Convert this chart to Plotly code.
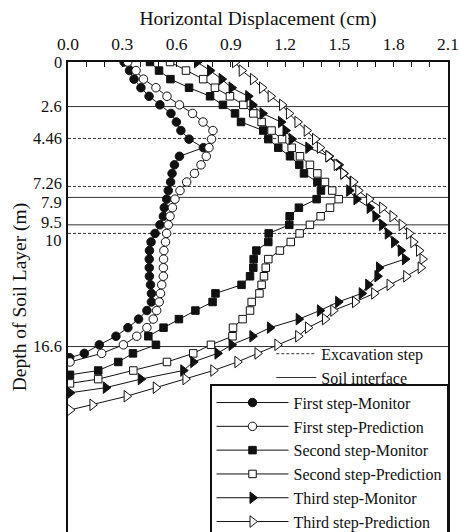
import plotly.graph_objects as go

# Depth (m) and horizontal displacement (cm) of the retaining wall after each excavation step
fm_depth = [0, 0.5, 1.0, 1.5, 2.0, 2.5, 3.0, 3.5, 4.0, 4.5, 5.0, 5.5, 6.0, 6.5, 7.0, 7.5, 8.0, 8.5,
            9.0, 9.5, 10.0, 10.5, 11.0, 11.5, 12.0, 12.5, 13.0, 13.5, 14.0, 14.5, 15.0, 15.5, 16.0,
            16.5, 17.0, 17.25]
fm_disp = [0.31, 0.340, 0.365, 0.403, 0.448, 0.508, 0.569, 0.599, 0.624, 0.669, 0.748, 0.616, 0.588,
           0.575, 0.567, 0.554, 0.545, 0.532, 0.527, 0.508, 0.481, 0.459, 0.450, 0.449, 0.449, 0.450,
           0.456, 0.461, 0.461, 0.436, 0.390, 0.331, 0.265, 0.173, 0.090, 0.009]

fp_depth = [0, 0.5, 1.0, 1.5, 2.0, 2.5, 3.0, 3.5, 4.0, 4.5, 5.0, 5.5, 6.0, 6.5, 7.0, 7.5, 8.0, 8.5,
            9.0, 9.5, 10.0, 10.5, 11.0, 11.5, 12.0, 12.5, 13.0, 13.5, 14.0, 14.5, 15.0, 15.5, 16.0,
            16.5, 17.0, 17.5]
fp_disp = [0.33, 0.376, 0.417, 0.486, 0.547, 0.616, 0.688, 0.746, 0.801, 0.793, 0.779, 0.764, 0.735,
           0.699, 0.656, 0.619, 0.591, 0.577, 0.564, 0.554, 0.545, 0.539, 0.530, 0.528, 0.527, 0.527,
           0.518, 0.511, 0.504, 0.490, 0.471, 0.436, 0.380, 0.306, 0.186, 0.011]

sm_depth = [0, 0.5, 1.0, 1.5, 2.0, 2.5, 3.0, 3.5, 4.0, 4.5, 5.0, 5.5, 6.0, 6.5, 7.0, 7.5, 8.0, 8.5,
            9.0, 9.5, 10.0, 10.5, 11.0, 11.5, 12.0, 12.5, 13.0, 13.5, 14.0, 14.5, 15.0, 15.5, 16.0,
            16.5, 17.0, 17.5, 18.0, 18.25]
sm_disp = [0.453, 0.503, 0.566, 0.669, 0.785, 0.856, 0.923, 0.956, 1.079, 1.107, 1.162, 1.227, 1.278,
           1.304, 1.378, 1.398, 1.374, 1.276, 1.225, 1.223, 1.109, 1.107, 1.041, 1.026, 1.024, 1.006,
           0.959, 0.815, 0.799, 0.704, 0.613, 0.528, 0.444, 0.486, 0.359, 0.278, 0.167, 0.011]

sp_depth = [0, 0.5, 1.0, 1.5, 2.0, 2.5, 3.0, 3.5, 4.0, 4.5, 5.0, 5.5, 6.0, 6.5, 7.0, 7.5, 8.0, 8.5,
            9.0, 9.5, 10.0, 10.5, 11.0, 11.5, 12.0, 12.5, 13.0, 13.5, 14.0, 14.5, 15.0, 15.5, 16.0,
            16.5, 17.0, 17.5, 18.0, 18.5, 18.75]
sp_disp = [0.564, 0.652, 0.747, 0.812, 0.895, 0.969, 1.024, 1.070, 1.125, 1.183, 1.236, 1.282, 1.337,
           1.378, 1.420, 1.460, 1.496, 1.448, 1.396, 1.337, 1.280, 1.231, 1.171, 1.107, 1.093, 1.083,
           1.070, 1.058, 1.015, 1.006, 0.965, 0.912, 0.909, 0.790, 0.692, 0.547, 0.361, 0.167, 0.011]

tm_depth = [0, 0.5, 1.0, 1.5, 2.0, 2.5, 3.0, 3.5, 4.0, 4.5, 5.0, 5.5, 6.0, 6.5, 7.0, 7.5, 8.0, 8.5,
            9.0, 9.5, 10.0, 10.5, 11.0, 11.5, 12.0, 12.5, 13.0, 13.5, 14.0, 14.5, 15.0, 15.5, 16.0,
            16.5, 17.0, 17.5, 18.0, 18.5, 19.0, 19.3]
tm_disp = [0.713, 0.785, 0.849, 0.904, 0.996, 1.019, 1.075, 1.177, 1.202, 1.236, 1.328, 1.442, 1.496,
           1.523, 1.572, 1.554, 1.594, 1.667, 1.699, 1.736, 1.767, 1.802, 1.839, 1.862, 1.719, 1.710,
           1.659, 1.623, 1.493, 1.392, 1.275, 1.116, 1.019, 0.904, 0.826, 0.692, 0.637, 0.402, 0.209,
           0.011]

tp_depth = [0, 0.5, 1.0, 1.5, 2.0, 2.5, 3.0, 3.5, 4.0, 4.5, 5.0, 5.5, 6.0, 6.5, 7.0, 7.5, 8.0, 8.5,
            9.0, 9.5, 10.0, 10.5, 11.0, 11.5, 12.0, 12.5, 13.0, 13.5, 14.0, 14.5, 15.0, 15.5, 16.0,
            16.5, 17.0, 17.5, 18.0, 18.5, 19.0, 19.5, 20.0, 20.3]
tp_disp = [0.923, 0.960, 1.022, 1.072, 1.120, 1.183, 1.221, 1.268, 1.319, 1.365, 1.392, 1.438, 1.485,
           1.521, 1.576, 1.604, 1.664, 1.736, 1.793, 1.844, 1.885, 1.908, 1.940, 1.959, 1.949, 1.869,
           1.777, 1.692, 1.586, 1.466, 1.420, 1.326, 1.272, 1.157, 1.047, 0.936, 0.803, 0.649, 0.485,
           0.324, 0.135, 0.011]

# Reference depths
excavation_depths = [4.46, 7.26, 10]
interface_depths = [2.6, 7.9, 9.5, 16.6]
depth_ticks = [0, 2.6, 4.46, 7.26, 7.9, 9.5, 10, 16.6]
depth_tick_text = ["0", "2.6", "4.46", "7.26", "7.9", "9.5", "10", "16.6"]
# vertical nudges (px) so that crowded depth labels stay readable
depth_label_nudge = [0, 0, 0, 3, -5, 2, -7, 0]

X_MAX = 2.1
Y_MAX = 27.42
FONT = "Liberation Serif"
INK = "#111111"


def level_lines(depths):
    xs, ys = [], []
    for d in depths:
        xs += [0, X_MAX, None]
        ys += [d, d, None]
    return xs, ys


fig = go.Figure()

ex_x, ex_y = level_lines(excavation_depths)
fig.add_trace(go.Scatter(x=ex_x, y=ex_y, mode="lines", name="Excavation step",
                         line=dict(color="#333333", width=1, dash="3px,2px"),
                         legend="legend2", hoverinfo="skip"))
si_x, si_y = level_lines(interface_depths)
fig.add_trace(go.Scatter(x=si_x, y=si_y, mode="lines", name="Soil interface",
                         line=dict(color="#333333", width=1),
                         legend="legend2", hoverinfo="skip"))

series = [
    ("First step-Monitor", fm_disp, fm_depth, "circle", INK, 8.5),
    ("First step-Prediction", fp_disp, fp_depth, "circle", "white", 8.5),
    ("Second step-Monitor", sm_disp, sm_depth, "square", INK, 7.5),
    ("Second step-Prediction", sp_disp, sp_depth, "square", "white", 7.5),
    ("Third step-Monitor", tm_disp, tm_depth, "triangle-right", INK, 10),
    ("Third step-Prediction", tp_disp, tp_depth, "triangle-right", "white", 10),
]
for name, xs, ys, sym, fill, size in series:
    fig.add_trace(go.Scatter(
        x=xs, y=ys, mode="lines+markers", name=name, legend="legend",
        line=dict(color=INK, width=1),
        marker=dict(symbol=sym, size=size, color=fill, line=dict(color=INK, width=1)),
    ))

# depth labels beside the left axis
for d, txt, nudge in zip(depth_ticks, depth_tick_text, depth_label_nudge):
    fig.add_annotation(x=0, xref="paper", xanchor="right", xshift=-5,
                       y=d, yref="y", yanchor="middle", yshift=nudge, borderpad=0,
                       text=txt, showarrow=False, font=dict(size=16.5, family=FONT, color=INK))

fig.update_layout(
    width=459, height=532,
    margin=dict(l=68, r=11, t=62, b=0, autoexpand=False),
    paper_bgcolor="white", plot_bgcolor="white",
    font=dict(family=FONT, size=17.5, color=INK),
    xaxis=dict(
        side="top", range=[0, X_MAX], tick0=0, dtick=0.3, tickformat=".1f",
        ticks="inside", ticklen=5, tickwidth=1, tickcolor=INK,
        minor=dict(dtick=0.1, tick0=0, ticks="inside", ticklen=5, tickwidth=1, tickcolor=INK),
        showline=True, linecolor=INK, linewidth=1.5, mirror=False,
        showgrid=False, zeroline=False, ticklabelstandoff=3,
        tickfont=dict(size=17.5),
        title=dict(text="Horizontal Displacement (cm)", font=dict(size=19.5), standoff=3),
    ),
    yaxis=dict(
        range=[Y_MAX, 0], showticklabels=False, ticks="",
        showline=True, linecolor=INK, linewidth=1.5, mirror=True,
        showgrid=False, zeroline=False,
        title=dict(text="Depth of Soil Layer (m)", font=dict(size=19.5), standoff=34),
    ),
    legend=dict(
        x=1, xanchor="right", y=0.3146, yanchor="top",
        bgcolor="white", bordercolor=INK, borderwidth=1.5,
        font=dict(size=16), tracegroupgap=0, itemwidth=72,
    ),
    legend2=dict(
        x=0.535, xanchor="left", y=0.4153, yanchor="top",
        bgcolor="rgba(255,255,255,0)", borderwidth=0,
        font=dict(size=16), itemwidth=40,
    ),
)

fig.write_html("out.html")
